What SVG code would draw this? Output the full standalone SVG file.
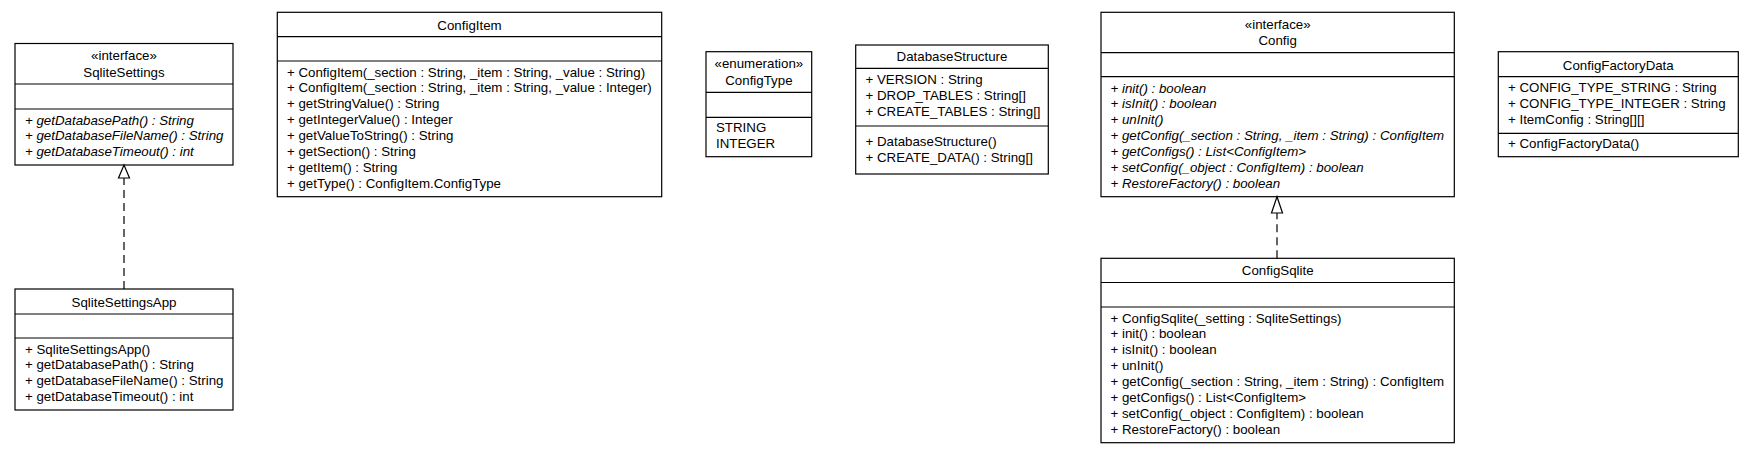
<svg xmlns="http://www.w3.org/2000/svg" width="1755" height="453" viewBox="0 0 1755 453">
<style>
rect.box{fill:#fff;stroke:#000;stroke-width:1.2}
line.div{stroke:#000;stroke-width:1.2}
text{font-family:"Liberation Sans",Arial,Helvetica,sans-serif;font-size:13.3px;fill:#000}
text.t{text-anchor:middle}
text.i{font-style:italic}
.conn{stroke:#000;stroke-width:1.2;fill:none;stroke-dasharray:8,5}
.head{fill:#fff;stroke:#000;stroke-width:1.2}
</style>
<rect width="1755" height="453" fill="#fff"/>

<g id="SqliteSettings">
<rect class="box" x="15" y="43.5" width="218" height="121.5"/>
<line class="div" x1="15" y1="84" x2="233" y2="84"/>
<line class="div" x1="15" y1="109" x2="233" y2="109"/>
<text class="t" x="124" y="59.5">«interface»</text>
<text class="t" x="124" y="77">SqliteSettings</text>
<text class="i" x="25" y="124.5">+ getDatabasePath() : String</text>
<text class="i" x="25" y="140.4">+ getDatabaseFileName() : String</text>
<text class="i" x="25" y="156.3">+ getDatabaseTimeout() : int</text>
</g>

<g id="SqliteSettingsApp">
<rect class="box" x="15" y="289" width="218" height="121"/>
<line class="div" x1="15" y1="314" x2="233" y2="314"/>
<line class="div" x1="15" y1="338" x2="233" y2="338"/>
<text class="t" x="124" y="306.5">SqliteSettingsApp</text>
<text x="25" y="353.5">+ SqliteSettingsApp()</text>
<text x="25" y="369.4">+ getDatabasePath() : String</text>
<text x="25" y="385.3">+ getDatabaseFileName() : String</text>
<text x="25" y="401.2">+ getDatabaseTimeout() : int</text>
</g>

<g id="ConfigItem">
<rect class="box" x="277.3" y="12.3" width="384.4" height="184.4"/>
<line class="div" x1="277.3" y1="36.7" x2="661.7" y2="36.7"/>
<line class="div" x1="277.3" y1="61" x2="661.7" y2="61"/>
<text class="t" x="469.5" y="29.5">ConfigItem</text>
<text x="287" y="76.5">+ ConfigItem(_section : String, _item : String, _value : String)</text>
<text x="287" y="92.4">+ ConfigItem(_section : String, _item : String, _value : Integer)</text>
<text x="287" y="108.3">+ getStringValue() : String</text>
<text x="287" y="124.2">+ getIntegerValue() : Integer</text>
<text x="287" y="140.1">+ getValueToString() : String</text>
<text x="287" y="156">+ getSection() : String</text>
<text x="287" y="171.9">+ getItem() : String</text>
<text x="287" y="187.8">+ getType() : ConfigItem.ConfigType</text>
</g>

<g id="ConfigType">
<rect class="box" x="706" y="51.7" width="105.7" height="105"/>
<line class="div" x1="706" y1="92.3" x2="811.7" y2="92.3"/>
<line class="div" x1="706" y1="117.3" x2="811.7" y2="117.3"/>
<text class="t" x="758.9" y="68.3">«enumeration»</text>
<text class="t" x="758.9" y="85">ConfigType</text>
<text x="716" y="132.3">STRING</text>
<text x="716" y="148">INTEGER</text>
</g>

<g id="DatabaseStructure">
<rect class="box" x="855.7" y="45" width="192.6" height="129"/>
<line class="div" x1="855.7" y1="68.3" x2="1048.3" y2="68.3"/>
<line class="div" x1="855.7" y1="126" x2="1048.3" y2="126"/>
<text class="t" x="952" y="61.3">DatabaseStructure</text>
<text x="865.5" y="84.3">+ VERSION : String</text>
<text x="865.5" y="100">+ DROP_TABLES : String[]</text>
<text x="865.5" y="115.8">+ CREATE_TABLES : String[]</text>
<text x="865.5" y="146.2">+ DatabaseStructure()</text>
<text x="865.5" y="162">+ CREATE_DATA() : String[]</text>
</g>

<g id="Config">
<rect class="box" x="1101" y="12.3" width="353.3" height="184.4"/>
<line class="div" x1="1101" y1="52.7" x2="1454.3" y2="52.7"/>
<line class="div" x1="1101" y1="76.7" x2="1454.3" y2="76.7"/>
<text class="t" x="1277.7" y="29.3">«interface»</text>
<text class="t" x="1277.7" y="45.2">Config</text>
<text class="i" x="1110.5" y="92.5">+ init() : boolean</text>
<text class="i" x="1110.5" y="108.4">+ isInit() : boolean</text>
<text class="i" x="1110.5" y="124.3">+ unInit()</text>
<text class="i" x="1110.5" y="140.2">+ getConfig(_section : String, _item : String) : ConfigItem</text>
<text class="i" x="1110.5" y="156.1">+ getConfigs() : List&lt;ConfigItem&gt;</text>
<text class="i" x="1110.5" y="172">+ setConfig(_object : ConfigItem) : boolean</text>
<text class="i" x="1110.5" y="187.9">+ RestoreFactory() : boolean</text>
</g>

<g id="ConfigSqlite">
<rect class="box" x="1101" y="258.3" width="353.3" height="184.4"/>
<line class="div" x1="1101" y1="282.5" x2="1454.3" y2="282.5"/>
<line class="div" x1="1101" y1="307" x2="1454.3" y2="307"/>
<text class="t" x="1277.7" y="274.5">ConfigSqlite</text>
<text x="1110.5" y="322.5">+ ConfigSqlite(_setting : SqliteSettings)</text>
<text x="1110.5" y="338.4">+ init() : boolean</text>
<text x="1110.5" y="354.3">+ isInit() : boolean</text>
<text x="1110.5" y="370.2">+ unInit()</text>
<text x="1110.5" y="386.1">+ getConfig(_section : String, _item : String) : ConfigItem</text>
<text x="1110.5" y="402">+ getConfigs() : List&lt;ConfigItem&gt;</text>
<text x="1110.5" y="417.9">+ setConfig(_object : ConfigItem) : boolean</text>
<text x="1110.5" y="433.8">+ RestoreFactory() : boolean</text>
</g>

<g id="ConfigFactoryData">
<rect class="box" x="1498.3" y="51.7" width="240" height="105"/>
<line class="div" x1="1498.3" y1="76.7" x2="1738.3" y2="76.7"/>
<line class="div" x1="1498.3" y1="133.3" x2="1738.3" y2="133.3"/>
<text class="t" x="1618.3" y="69.5">ConfigFactoryData</text>
<text x="1508" y="92.2">+ CONFIG_TYPE_STRING : String</text>
<text x="1508" y="108">+ CONFIG_TYPE_INTEGER : String</text>
<text x="1508" y="123.8">+ ItemConfig : String[][]</text>
<text x="1508" y="148">+ ConfigFactoryData()</text>
</g>

<g id="connectors">
<line class="conn" x1="124" y1="289" x2="124" y2="178"/>
<polygon class="head" points="124,165 118.5,178 129.5,178"/>
<line class="conn" x1="1277" y1="258.3" x2="1277" y2="213"/>
<polygon class="head" points="1277,196.7 1271.5,213 1282.5,213"/>
</g>
</svg>
